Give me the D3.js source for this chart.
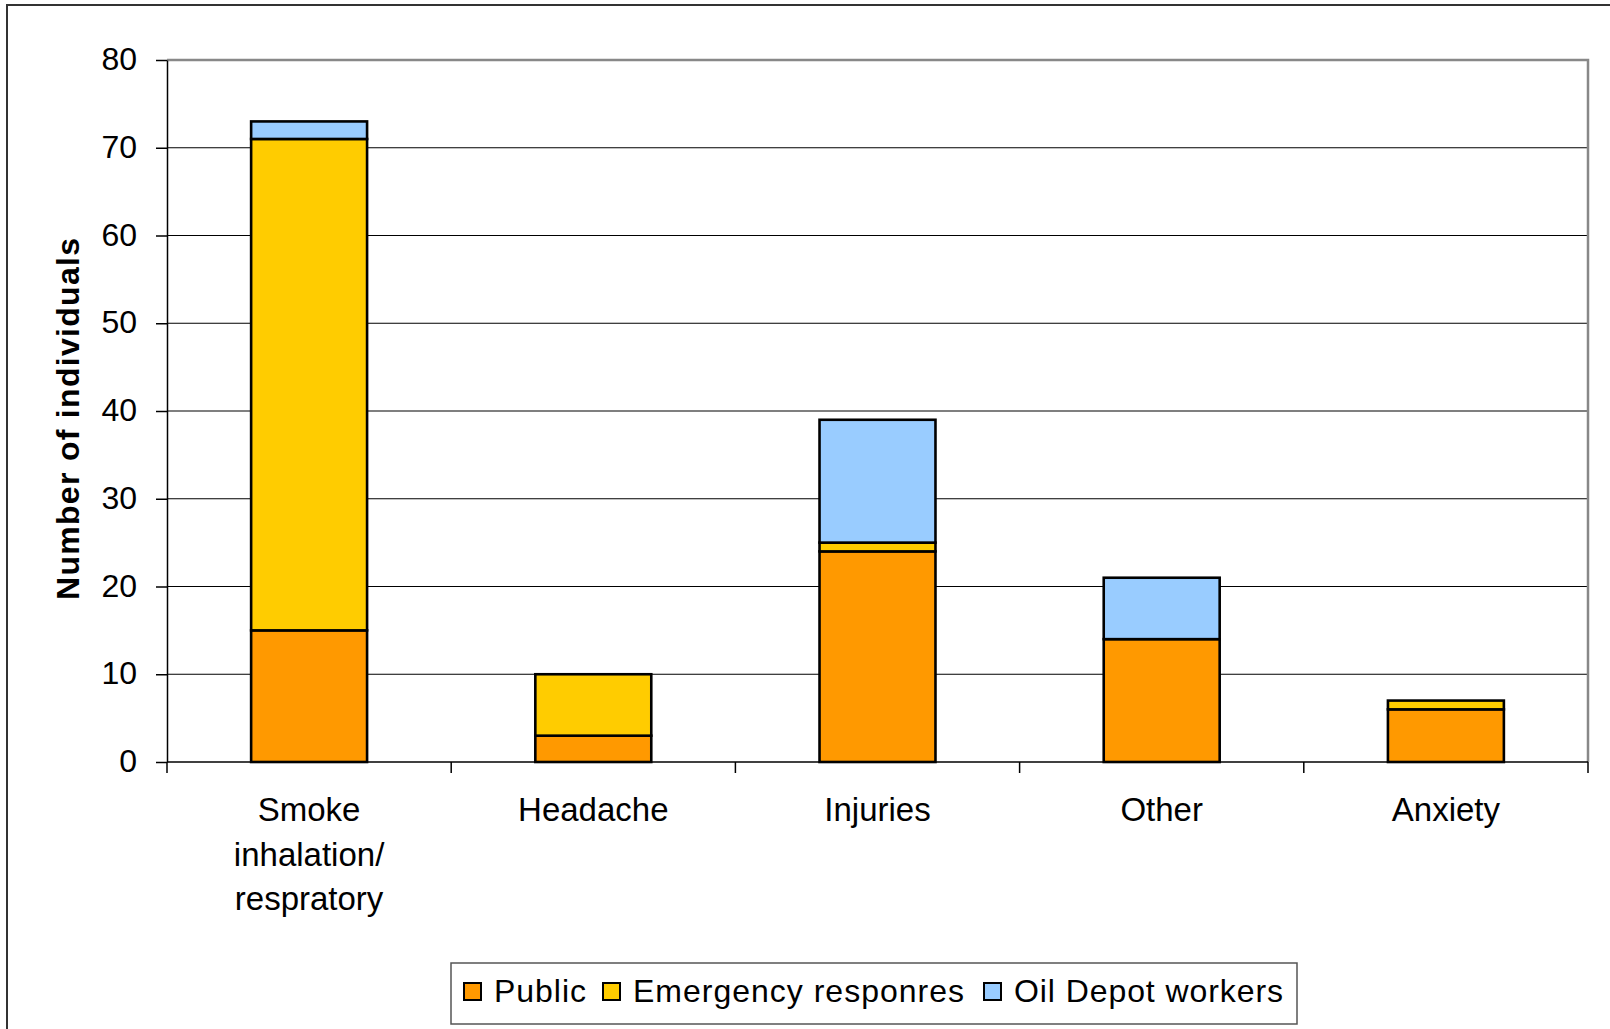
<!DOCTYPE html>
<html>
<head>
<meta charset="utf-8">
<script src="https://cdn.jsdelivr.net/npm/d3@7"></script>
<style>
  html, body { margin: 0; padding: 0; background: #fff; }
  svg { display: block; }
  text { font-family: "Liberation Sans", Arial, sans-serif; fill: #000; }
</style>
</head>
<body>
<svg id="chart" width="1610" height="1029"></svg>
<script>
// ---- data ----
const categories = ["Smoke inhalation/ respratory", "Headache", "Injuries", "Other", "Anxiety"];
const categoryLines = [["Smoke", "inhalation/", "respratory"], ["Headache"], ["Injuries"], ["Other"], ["Anxiety"]];
const seriesNames = ["Public", "Emergency responres", "Oil Depot workers"];
const publicVals = [15, 3, 24, 14, 6];
const emergencyVals = [56, 7, 1, 0, 1];
const oilDepotVals = [2, 0, 14, 7, 0];
const seriesColors = ["#FF9900", "#FFCC00", "#99CCFF"];
const yTicks = [0, 10, 20, 30, 40, 50, 60, 70, 80];
const yTitle = "Number of individuals";

(function () {
  const svg = d3.select("#chart");
  const pL = 167, pR = 1588, pT = 60, pB = 762;

  // outer frame (extends beyond the picture at right/bottom)
  svg.append("rect").attr("x", 7).attr("y", 5).attr("width", 1700).attr("height", 1100)
    .attr("fill", "none").attr("stroke", "#333").attr("stroke-width", 2);

  const x = d3.scaleBand().domain(categories).range([pL, pR]).paddingInner(0).paddingOuter(0);
  const y = d3.scaleLinear().domain([0, 80]).range([pB, pT]);

  // gridlines
  svg.append("g").selectAll("line").data(yTicks.filter(t => t > 0 && t < 80)).join("line")
    .attr("x1", pL).attr("x2", pR)
    .attr("y1", d => y(d)).attr("y2", d => y(d))
    .attr("stroke", "#000").attr("stroke-width", 1.2);

  // plot area top & right border (gray)
  svg.append("path")
    .attr("d", `M${pL},${y(80)}H${pR}V${pB}`)
    .attr("fill", "none").attr("stroke", "#888").attr("stroke-width", 2.5);

  // y axis
  const yAxis = svg.append("g").attr("transform", `translate(${pL},0)`)
    .call(d3.axisLeft(y).tickValues(yTicks).tickSize(11).tickPadding(19).tickSizeOuter(0));
  yAxis.select(".domain").attr("stroke", "#000").attr("stroke-width", 1.5);
  yAxis.selectAll(".tick line").attr("stroke", "#000").attr("stroke-width", 1.5);
  yAxis.selectAll(".tick text").attr("font-size", 32).attr("font-family", "Liberation Sans, Arial, sans-serif").attr("dy", "0.3em");

  // x axis (ticks at band boundaries)
  const boundaries = categories.map(c => x(c)).concat([pR]);
  svg.append("line").attr("x1", pL).attr("x2", pR).attr("y1", pB).attr("y2", pB)
    .attr("stroke", "#000").attr("stroke-width", 1.5);
  svg.append("g").selectAll("line").data(boundaries).join("line")
    .attr("x1", d => d).attr("x2", d => d).attr("y1", pB).attr("y2", pB + 11)
    .attr("stroke", "#000").attr("stroke-width", 1.5);

  // stacked bars
  const rows = categories.map((c, i) => ({ cat: c, "Public": publicVals[i], "Emergency responres": emergencyVals[i], "Oil Depot workers": oilDepotVals[i] }));
  const stack = d3.stack().keys(seriesNames)(rows);
  const barW = x.bandwidth() * 0.408;
  stack.forEach((layer, si) => {
    svg.append("g").selectAll("rect").data(layer.filter(d => d[1] - d[0] > 0)).join("rect")
      .attr("x", d => x(d.data.cat) + (x.bandwidth() - barW) / 2)
      .attr("width", barW)
      .attr("y", d => y(d[1]))
      .attr("height", d => y(d[0]) - y(d[1]))
      .attr("fill", seriesColors[si])
      .attr("stroke", "#000").attr("stroke-width", 2.6);
  });

  // category labels
  categories.forEach((c, i) => {
    const cx = x(c) + x.bandwidth() / 2;
    const t = svg.append("text").attr("text-anchor", "middle").attr("font-size", 33)
      .attr("x", cx).attr("y", 821);
    categoryLines[i].forEach((ln, k) => {
      t.append("tspan").attr("x", cx).attr("dy", k === 0 ? 0 : 44.7).text(ln);
    });
  });

  // y title
  svg.append("text").attr("transform", `translate(79,419) rotate(-90)`)
    .attr("text-anchor", "middle").attr("font-size", 32).attr("font-weight", "bold")
    .attr("textLength", 362).attr("lengthAdjust", "spacing")
    .text(yTitle);

  // legend
  const lg = svg.append("g");
  lg.append("rect").attr("x", 451).attr("y", 963).attr("width", 846).attr("height", 61)
    .attr("fill", "#fff").attr("stroke", "#555").attr("stroke-width", 1.5);
  const legendX = [464, 603, 984];
  const legendW = [92, 331, 269];
  seriesNames.forEach((s, i) => {
    lg.append("rect").attr("x", legendX[i]).attr("y", 983).attr("width", 17).attr("height", 17)
      .attr("fill", seriesColors[i]).attr("stroke", "#000").attr("stroke-width", 2);
    lg.append("text").attr("x", legendX[i] + 30).attr("y", 1002).attr("font-size", 32)
      .attr("textLength", legendW[i]).attr("lengthAdjust", "spacing").text(s);
  });
})();
</script>
</body>
</html>
